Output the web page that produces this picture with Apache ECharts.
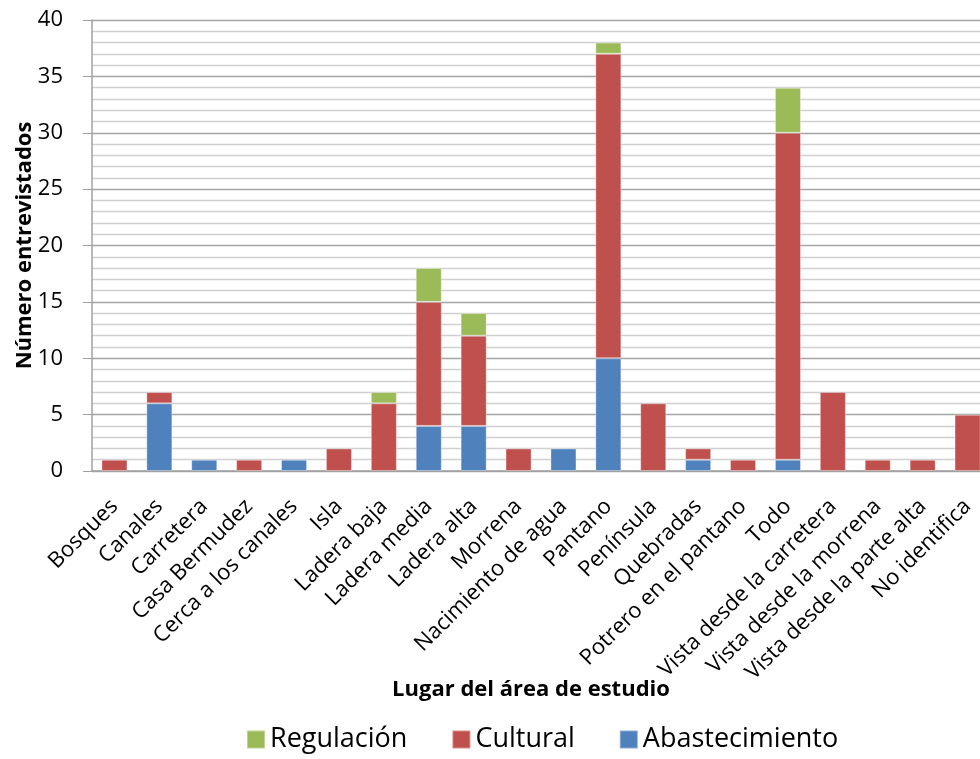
<!DOCTYPE html>
<html>
<head>
<meta charset="utf-8">
<script src="https://cdn.jsdelivr.net/npm/echarts@6/dist/echarts.min.js"></script>
<style>html,body{margin:0;padding:0;background:#fff}#c{width:980px;height:759px}</style>
</head>
<body>
<div id="c"></div>
<script>
const categories = ["Bosques","Canales","Carretera","Casa Bermudez","Cerca a los canales","Isla","Ladera baja","Ladera media","Ladera alta","Morrena","Nacimiento de agua","Pantano","Península","Quebradas","Potrero en el pantano","Todo","Vista desde la carretera","Vista desde la morrena","Vista desde la parte alta","No identifica"];
const abastecimiento = [0,6,1,0,1,0,0,4,4,0,2,10,0,1,0,1,0,0,0,0];
const cultural =       [1,1,0,1,0,2,6,11,8,2,0,27,6,1,1,29,7,1,1,5];
const regulacion =     [0,0,0,0,0,0,1,3,2,0,0,1,0,0,0,4,0,0,0,0];
const yTicks = [0,5,10,15,20,25,30,35,40];

const FONT = "Open Sans";
const chart = echarts.init(document.getElementById('c'));
function ser(name, data, color){
  return {name, type:'bar', stack:'t', data: data.map(v => v === 0 ? null : v), barCategoryGap:'42%',
    itemStyle:{color, borderColor:'rgba(255,255,255,0.35)', borderWidth:1}};
}
chart.setOption({
  animation:false,
  textStyle:{fontFamily:FONT},
  grid:{left:92, right:-10, top:20, bottom:288, containLabel:false, outerBoundsMode:'none'},
  legend:{
    data:['Regulación','Cultural','Abastecimiento'],
    bottom:1, left:241, itemWidth:18, itemHeight:18, itemGap:44, icon:'rect',
    textStyle:{fontFamily:FONT, fontSize:27, color:'#000'}
  },
  xAxis:{
    type:'category', data:categories,
    name:'Lugar del área de estudio', nameLocation:'middle', nameGap:208, nameMoveOverlap:false,
    nameTextStyle:{fontFamily:FONT, fontSize:22, fontWeight:'bold', color:'#000', padding:[0,0,0,-20]},
    axisLine:{lineStyle:{color:'#a0a0a0', width:1.5}},
    axisTick:{show:false},
    axisLabel:{rotate:45, interval:0, fontFamily:FONT, fontSize:22, color:'#000', margin:32}
  },
  yAxis:{
    type:'value', min:yTicks[0], max:yTicks[yTicks.length-1], interval:5,
    name:'Número entrevistados', nameLocation:'middle', nameGap:56, nameRotate:90, nameMoveOverlap:false,
    nameTextStyle:{fontFamily:FONT, fontSize:22, fontWeight:'bold', color:'#000'},
    axisLine:{show:true, lineStyle:{color:'#a0a0a0', width:1.5}},
    axisTick:{show:true, length:9, inside:false, lineStyle:{color:'#a0a0a0'}},
    axisLabel:{fontFamily:FONT, fontSize:22, color:'#000', margin:29},
    splitLine:{show:true, lineStyle:{color:'#a5a5a5', width:1.3}},
    minorTick:{show:false, splitNumber:5},
    minorSplitLine:{show:true, lineStyle:{color:'#d0d0d0', width:1.3}}
  },
  series:[
    ser('Abastecimiento', abastecimiento, '#4F81BD'),
    ser('Cultural', cultural, '#C0504D'),
    ser('Regulación', regulacion, '#9BBB59')
  ]
});
</script>
</body>
</html>
